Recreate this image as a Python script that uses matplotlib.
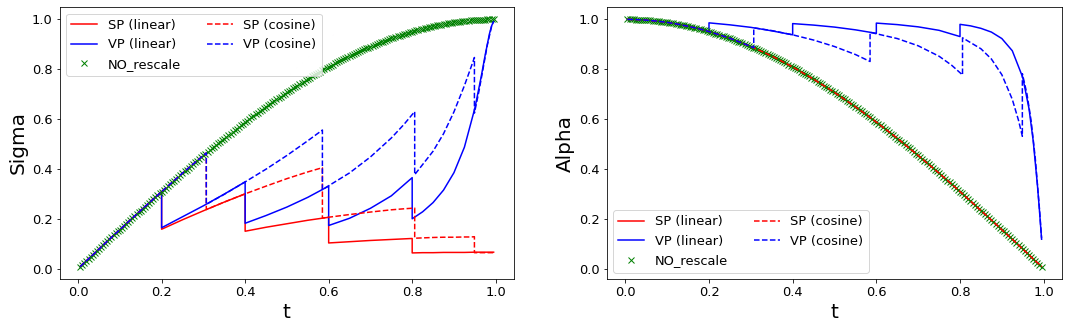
import numpy as np
import matplotlib
matplotlib.use("Agg")
import matplotlib.pyplot as plt

plt.rcParams["font.size"] = 13

# ---- NO_rescale (dense markers, t = 0.005 ... 0.995) ----
t_ref = np.linspace(0.005, 0.995, 199)
sigma_ref = [0.008, 0.016, 0.024, 0.031, 0.039, 0.047, 0.055, 0.063, 0.071, 0.078,
             0.086, 0.094, 0.102, 0.110, 0.118, 0.125, 0.133, 0.141, 0.149, 0.156,
             0.164, 0.172, 0.180, 0.187, 0.195, 0.203, 0.210, 0.218, 0.226, 0.233,
             0.241, 0.249, 0.256, 0.264, 0.271, 0.279, 0.287, 0.294, 0.302, 0.309,
             0.316, 0.324, 0.331, 0.339, 0.346, 0.353, 0.361, 0.368, 0.375, 0.383,
             0.390, 0.397, 0.404, 0.412, 0.419, 0.426, 0.433, 0.440, 0.447, 0.454,
             0.461, 0.468, 0.475, 0.482, 0.489, 0.495, 0.502, 0.509, 0.516, 0.522,
             0.529, 0.536, 0.542, 0.549, 0.556, 0.562, 0.569, 0.575, 0.581, 0.588,
             0.594, 0.600, 0.607, 0.613, 0.619, 0.625, 0.631, 0.637, 0.643, 0.649,
             0.655, 0.661, 0.667, 0.673, 0.679, 0.685, 0.690, 0.696, 0.702, 0.707,
             0.713, 0.718, 0.724, 0.729, 0.734, 0.740, 0.745, 0.750, 0.755, 0.760,
             0.765, 0.771, 0.775, 0.780, 0.785, 0.790, 0.795, 0.800, 0.804, 0.809,
             0.814, 0.818, 0.823, 0.827, 0.831, 0.836, 0.840, 0.844, 0.848, 0.853,
             0.857, 0.861, 0.865, 0.869, 0.872, 0.876, 0.880, 0.884, 0.887, 0.891,
             0.894, 0.898, 0.901, 0.905, 0.908, 0.911, 0.915, 0.918, 0.921, 0.924,
             0.927, 0.930, 0.933, 0.935, 0.938, 0.941, 0.943, 0.946, 0.949, 0.951,
             0.953, 0.956, 0.958, 0.960, 0.962, 0.965, 0.967, 0.969, 0.970, 0.972,
             0.974, 0.976, 0.978, 0.979, 0.981, 0.982, 0.984, 0.985, 0.986, 0.988,
             0.989, 0.990, 0.991, 0.992, 0.993, 0.994, 0.995, 0.996, 0.996, 0.997,
             0.997, 0.998, 0.998, 0.999, 0.999, 1.000, 1.000, 1.000, 1.000]
alpha_ref = [1.000, 1.000, 1.000, 1.000, 0.999, 0.999, 0.998, 0.998, 0.997,
             0.997, 0.996, 0.996, 0.995, 0.994, 0.993, 0.992, 0.991, 0.990, 0.989,
             0.988, 0.986, 0.985, 0.984, 0.982, 0.981, 0.979, 0.978, 0.976, 0.974,
             0.972, 0.970, 0.969, 0.967, 0.965, 0.962, 0.960, 0.958, 0.956, 0.953,
             0.951, 0.949, 0.946, 0.943, 0.941, 0.938, 0.935, 0.933, 0.930, 0.927,
             0.924, 0.921, 0.918, 0.915, 0.911, 0.908, 0.905, 0.901, 0.898, 0.894,
             0.891, 0.887, 0.884, 0.880, 0.876, 0.872, 0.869, 0.865, 0.861, 0.857,
             0.853, 0.848, 0.844, 0.840, 0.836, 0.831, 0.827, 0.823, 0.818, 0.814,
             0.809, 0.804, 0.800, 0.795, 0.790, 0.785, 0.780, 0.775, 0.771, 0.765,
             0.760, 0.755, 0.750, 0.745, 0.740, 0.734, 0.729, 0.724, 0.718, 0.713,
             0.707, 0.702, 0.696, 0.690, 0.685, 0.679, 0.673, 0.667, 0.661, 0.655,
             0.649, 0.643, 0.637, 0.631, 0.625, 0.619, 0.613, 0.607, 0.600, 0.594,
             0.588, 0.581, 0.575, 0.569, 0.562, 0.556, 0.549, 0.542, 0.536, 0.529,
             0.522, 0.516, 0.509, 0.502, 0.495, 0.489, 0.482, 0.475, 0.468, 0.461,
             0.454, 0.447, 0.440, 0.433, 0.426, 0.419, 0.412, 0.404, 0.397, 0.390,
             0.383, 0.375, 0.368, 0.361, 0.353, 0.346, 0.339, 0.331, 0.324, 0.316,
             0.309, 0.302, 0.294, 0.287, 0.279, 0.271, 0.264, 0.256, 0.249, 0.241,
             0.233, 0.226, 0.218, 0.210, 0.203, 0.195, 0.187, 0.180, 0.172, 0.164,
             0.156, 0.149, 0.141, 0.133, 0.125, 0.118, 0.110, 0.102, 0.094, 0.086,
             0.078, 0.071, 0.063, 0.055, 0.047, 0.039, 0.031, 0.024, 0.016, 0.008]

# ---- linear schedule (rescale at 0.2, 0.4, 0.6, 0.8) ----
t_lin = [0.005, 0.025, 0.05, 0.075, 0.1, 0.125, 0.15, 0.175, 0.2,
         0.2, 0.25, 0.3, 0.35, 0.4,
         0.4, 0.45, 0.5, 0.55, 0.6,
         0.6, 0.65, 0.7, 0.75, 0.8,
         0.8, 0.825, 0.85, 0.875, 0.9, 0.925, 0.95, 0.965, 0.975, 0.985, 0.99, 0.995]
sigma_sp_lin = [0.008, 0.039, 0.078, 0.118, 0.156, 0.195, 0.233, 0.271, 0.309,
                0.158, 0.196, 0.232, 0.267, 0.300,
                0.150, 0.166, 0.180, 0.194, 0.206,
                0.103, 0.108, 0.113, 0.117, 0.121,
                0.063, 0.064, 0.064, 0.065, 0.065, 0.065, 0.066, 0.066, 0.066, 0.066, 0.066, 0.066]
sigma_vp_lin = [0.008, 0.039, 0.078, 0.118, 0.156, 0.195, 0.233, 0.271, 0.309,
                0.164, 0.208, 0.252, 0.299, 0.348,
                0.182, 0.213, 0.247, 0.286, 0.331,
                0.173, 0.202, 0.242, 0.292, 0.365,
                0.200, 0.228, 0.265, 0.315, 0.385, 0.487, 0.643, 0.768, 0.859, 0.942, 0.973, 0.993]
alpha_sp_lin = [1.000, 0.999, 0.997, 0.993, 0.988, 0.981, 0.972, 0.963, 0.951,
                0.951, 0.924, 0.891, 0.853, 0.809,
                0.809, 0.760, 0.707, 0.649, 0.588,
                0.588, 0.523, 0.454, 0.383, 0.309,
                0.309, 0.271, 0.233, 0.195, 0.156, 0.118, 0.079, 0.055, 0.039, 0.024, 0.016, 0.008]
alpha_vp_lin = [1.000, 0.999, 0.997, 0.993, 0.988, 0.981, 0.972, 0.963, 0.951,
                0.986, 0.978, 0.968, 0.954, 0.938,
                0.983, 0.977, 0.969, 0.958, 0.944,
                0.985, 0.979, 0.970, 0.956, 0.931,
                0.980, 0.974, 0.964, 0.949, 0.923, 0.874, 0.767, 0.641, 0.512, 0.336, 0.231, 0.118]

# ---- cosine schedule (rescale at ~0.307, 0.585, 0.806, 0.949) ----
t_cos = [0.005, 0.025, 0.05, 0.075, 0.1, 0.125, 0.15, 0.175, 0.2, 0.225, 0.25, 0.275, 0.3, 0.307,
         0.307, 0.35, 0.4, 0.45, 0.5, 0.55, 0.585,
         0.585, 0.65, 0.7, 0.75, 0.78, 0.806,
         0.806, 0.85, 0.875, 0.9, 0.925, 0.94, 0.949,
         0.949, 0.96, 0.97, 0.98, 0.99, 0.995]
sigma_sp_cos = [0.008, 0.039, 0.078, 0.118, 0.156, 0.195, 0.233, 0.271, 0.309, 0.346, 0.383, 0.419, 0.454, 0.464,
                0.237, 0.267, 0.300, 0.331, 0.361, 0.388, 0.405,
                0.203, 0.217, 0.227, 0.236, 0.240, 0.243,
                0.122, 0.125, 0.126, 0.126, 0.127, 0.127, 0.128,
                0.064, 0.064, 0.064, 0.064, 0.064, 0.064]
sigma_vp_cos = [0.008, 0.039, 0.078, 0.118, 0.156, 0.195, 0.233, 0.271, 0.309, 0.346, 0.383, 0.419, 0.454, 0.464,
                0.258, 0.298, 0.348, 0.399, 0.454, 0.513, 0.556,
                0.317, 0.384, 0.448, 0.524, 0.578, 0.630,
                0.377, 0.471, 0.541, 0.629, 0.734, 0.804, 0.847,
                0.624, 0.713, 0.805, 0.898, 0.971, 0.993]
alpha_sp_cos = [1.000, 0.999, 0.997, 0.993, 0.988, 0.981, 0.972, 0.963, 0.951, 0.938, 0.924, 0.908, 0.891, 0.886,
                0.886, 0.853, 0.809, 0.760, 0.707, 0.649, 0.607,
                0.607, 0.523, 0.454, 0.383, 0.339, 0.300,
                0.300, 0.233, 0.195, 0.156, 0.118, 0.094, 0.080,
                0.080, 0.063, 0.047, 0.031, 0.016, 0.008]
alpha_vp_cos = [1.000, 0.999, 0.997, 0.993, 0.988, 0.981, 0.972, 0.963, 0.951, 0.938, 0.924, 0.908, 0.891, 0.886,
                0.966, 0.955, 0.938, 0.917, 0.891, 0.859, 0.831,
                0.948, 0.923, 0.894, 0.852, 0.816, 0.777,
                0.926, 0.882, 0.841, 0.778, 0.679, 0.594, 0.531,
                0.782, 0.701, 0.593, 0.441, 0.238, 0.122]

# ---- figure (pixel-matched layout) ----
W, H = 1069, 329
fig = plt.figure(figsize=(W / 72, H / 72), dpi=72)
ax1 = fig.add_axes([59.5 / W, 50 / H, 454.8 / W, 272 / H])
ax2 = fig.add_axes([606.7 / W, 50 / H, 455.6 / W, 272 / H])


def draw(ax, ref, sp_lin, vp_lin, sp_cos, vp_cos, ylabel, loc):
    ax.plot(t_lin, sp_lin, 'r-', label='SP (linear)')
    ax.plot(t_lin, vp_lin, 'b-', label='VP (linear)')
    ax.plot(t_ref, ref, 'gx', label='NO_rescale')
    ax.plot(t_cos, sp_cos, 'r--', label='SP (cosine)')
    ax.plot(t_cos, vp_cos, 'b--', label='VP (cosine)')
    ax.set_xlabel('t', fontsize=20)
    ax.set_ylabel(ylabel, fontsize=20)
    ax.legend(loc=loc, ncol=2)


draw(ax1, sigma_ref, sigma_sp_lin, sigma_vp_lin, sigma_sp_cos, sigma_vp_cos, 'Sigma', 'upper left')
draw(ax2, alpha_ref, alpha_sp_lin, alpha_vp_lin, alpha_sp_cos, alpha_vp_cos, 'Alpha', 'lower left')

fig.savefig("out.png", dpi=72)
